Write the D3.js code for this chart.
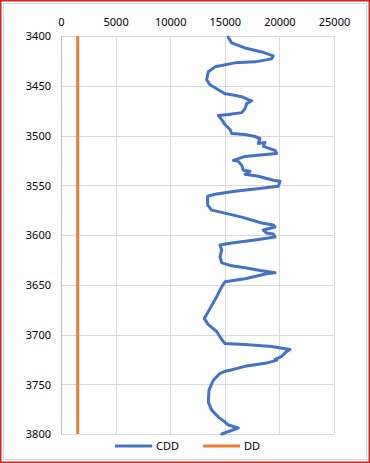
<!DOCTYPE html>
<html>
<head>
<meta charset="utf-8">
<script src="https://cdn.jsdelivr.net/npm/d3@7"></script>
<style>
  body { margin: 0; background: #fff; }
  text { font-family: "Noto Sans", "Liberation Sans", sans-serif; font-size: 11px; fill: #000; }
</style>
</head>
<body>
<div id="chart"></div>
<script>
// depth (y) and CDD values (x)
const depth = [3401, 3407, 3412, 3416, 3420, 3423, 3426, 3427, 3431, 3436, 3444, 3449, 3454, 3458, 3459, 3461,
  3464, 3465, 3468, 3473, 3477, 3479, 3480, 3484, 3489, 3494, 3498, 3499, 3501, 3503, 3508, 3507, 3511,
  3515, 3518, 3520, 3521, 3525, 3526, 3530, 3535, 3536, 3539, 3541, 3545, 3546, 3551, 3553, 3556, 3559,
  3561, 3570, 3575, 3578, 3582, 3588, 3590, 3592, 3595, 3598, 3599, 3602, 3605, 3608, 3610, 3615, 3622,
  3628, 3631, 3633, 3636, 3638, 3639, 3644, 3647, 3652, 3662, 3674, 3684, 3690, 3697, 3705, 3709, 3710,
  3712, 3715, 3717, 3722, 3725, 3726, 3729, 3732, 3736, 3737, 3739, 3746, 3756, 3768, 3776, 3783, 3788,
  3791, 3794, 3797, 3800];
const cdd = [15300, 15630, 16850, 18380, 19440, 19290, 17760, 15930, 14100, 13490, 13340, 13640, 14410, 15020, 15630, 16550,
  17150, 17460, 17000, 16850, 16550, 15330, 14410, 14720, 15020, 15480, 15630, 16850, 17770, 18220, 18070, 18680, 18530,
  19600, 19750, 17770, 16850, 15780, 16240, 16550, 16700, 17310, 16850, 18070, 19440, 20060, 19900, 18380, 15930, 14100,
  13430, 13430, 13800, 15020, 16550, 18380, 19440, 19600, 18530, 18840, 19440, 19600, 17770, 15630, 14560, 14720, 14560,
  14720, 15630, 16850, 18380, 19600, 18840, 16850, 15020, 14720, 14260, 13640, 13120, 13490, 14260, 14720, 15020, 16850,
  19290, 20970, 20670, 20210, 19600, 19750, 18680, 16850, 15480, 15020, 14560, 13950, 13550, 13490, 13800, 14410, 15020,
  15330, 16240, 15480, 14720];
const ddDepth = [3400, 3800];
const dd = [1530, 1530];

const xTicks = [0, 5000, 10000, 15000, 20000, 25000];
const yTicks = [3400, 3450, 3500, 3550, 3600, 3650, 3700, 3750, 3800];
const seriesNames = ['CDD', 'DD'];
const seriesColors = ['#4472c4', '#ed7d31'];

const W = 370, H = 463;
const margin = { top: 36, right: 36, bottom: 29, left: 61 };
const width = W - margin.left - margin.right;
const height = H - margin.top - margin.bottom;

const svg = d3.select('#chart').append('svg')
  .attr('width', W)
  .attr('height', H);

// frame
svg.append('rect')
  .attr('x', 3.5).attr('y', 3.5)
  .attr('width', W - 7).attr('height', H - 7)
  .attr('fill', 'none')
  .attr('stroke', '#d9d9d9');
svg.append('rect')
  .attr('x', 0.75).attr('y', 0.75)
  .attr('width', W - 1.5).attr('height', H - 1.5)
  .attr('fill', 'none')
  .attr('stroke', '#d42020')
  .attr('stroke-width', 1.5);

const g = svg.append('g')
  .attr('transform', `translate(${margin.left},${margin.top})`);

const x = d3.scaleLinear().domain([0, 25000]).range([0, width]);
const y = d3.scaleLinear().domain([3400, 3800]).range([0, height]);

// gridlines
g.append('g')
  .selectAll('line.v')
  .data(xTicks)
  .join('line')
  .attr('x1', d => Math.round(x(d)) + 0.5)
  .attr('x2', d => Math.round(x(d)) + 0.5)
  .attr('y1', 0).attr('y2', height)
  .attr('stroke', '#d9d9d9');
g.append('g')
  .selectAll('line.h')
  .data(yTicks)
  .join('line')
  .attr('y1', d => Math.round(y(d)) + 0.5)
  .attr('y2', d => Math.round(y(d)) + 0.5)
  .attr('x1', 0).attr('x2', width)
  .attr('stroke', '#d9d9d9');

// axes
const xAxis = g.append('g')
  .call(d3.axisTop(x).tickValues(xTicks).tickSize(0).tickPadding(10).tickFormat(d3.format('d')));
xAxis.select('.domain').remove();
xAxis.selectAll('text').attr('dy', '0');

const yAxis = g.append('g')
  .call(d3.axisLeft(y).tickValues(yTicks).tickSize(0).tickPadding(10).tickFormat(d3.format('d')));
yAxis.select('.domain').attr('stroke', '#bfbfbf');
yAxis.selectAll('text').attr('dy', '0.35em');

g.selectAll('.tick text').style('font-family', '"Noto Sans", sans-serif').style('font-size', '11px');

// lines
const cddLine = d3.line()
  .x((d, i) => x(cdd[i]))
  .y((d, i) => y(depth[i]));
const ddLine = d3.line()
  .x((d, i) => x(dd[i]))
  .y((d, i) => y(ddDepth[i]));

g.append('path')
  .datum(dd)
  .attr('fill', 'none')
  .attr('stroke', seriesColors[1])
  .attr('stroke-width', 3)
  .attr('d', ddLine);

g.append('path')
  .datum(cdd)
  .attr('fill', 'none')
  .attr('stroke', seriesColors[0])
  .attr('stroke-width', 3)
  .attr('stroke-linejoin', 'round')
  .attr('stroke-linecap', 'round')
  .attr('d', cddLine);

// legend
const legend = svg.append('g').attr('transform', 'translate(0,446)');
const legendX = [115, 203];
seriesNames.forEach((name, i) => {
  legend.append('line')
    .attr('x1', legendX[i]).attr('x2', legendX[i] + 37)
    .attr('y1', 0).attr('y2', 0)
    .attr('stroke', seriesColors[i])
    .attr('stroke-width', 3);
  legend.append('text')
    .attr('x', legendX[i] + 41)
    .attr('y', 0)
    .attr('dy', '0.35em')
    .text(name);
});
</script>
</body>
</html>
